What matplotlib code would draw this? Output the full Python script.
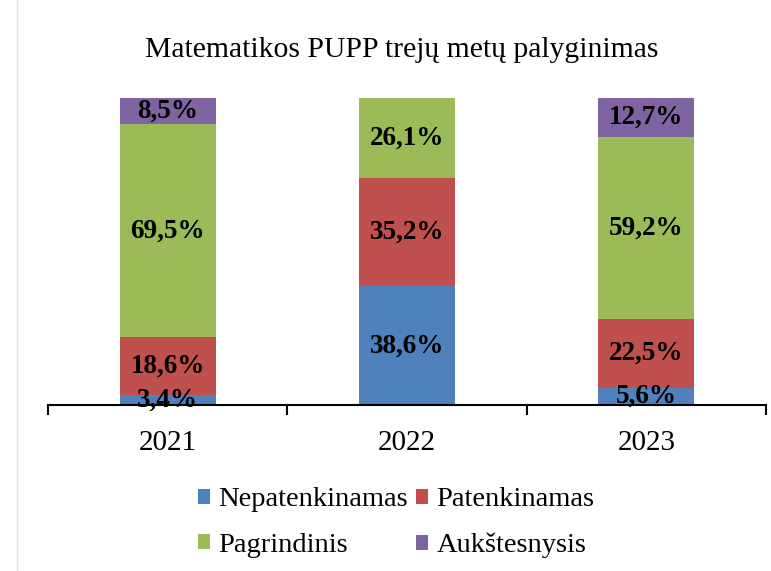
import matplotlib
matplotlib.use("Agg")
import matplotlib.pyplot as plt
from matplotlib.patches import Patch
import numpy as np

years = ["2021", "2022", "2023"]
series = ["Nepatenkinamas", "Patenkinamas", "Pagrindinis", "Aukštesnysis"]
nepatenkinamas = [3.4, 38.6, 5.6]
patenkinamas = [18.6, 35.2, 22.5]
pagrindinis = [69.5, 26.1, 59.2]
aukstesnysis = [8.5, 0.0, 12.7]
colors = ["#4F81BD", "#C0504D", "#9BBB59", "#8064A2"]
title = "Matematikos PUPP trejų metų palyginimas"

plt.rcParams['font.family'] = ['Liberation Serif', 'DejaVu Serif']

fig = plt.figure(figsize=(7.71, 5.71), dpi=100)
ax = fig.add_axes([48/771, 1-405/571, (766-48)/771, (405-98)/571])

data = [nepatenkinamas, patenkinamas, pagrindinis, aukstesnysis]
x = np.arange(len(years))
bottom = np.zeros(len(years))
for vals, col in zip(data, colors):
    vals = np.array(vals)
    ax.bar(x, vals, bottom=bottom, width=0.4, color=col, zorder=2)
    for xi, v, b in zip(x, vals, bottom):
        if v > 0:
            ax.text(xi, b + v/2, f"{v:.1f}%".replace(".", ","), ha="center", va="center",
                    fontsize=19.5, fontweight="bold", color="black", zorder=5)
    bottom += vals

ax.set_xlim(-0.5, 2.5)
ax.set_ylim(0, 100)
for s in ["top", "right", "left"]:
    ax.spines[s].set_visible(False)
ax.spines["bottom"].set_linewidth(1.5)
ax.spines["bottom"].set_zorder(3)
ax.set_yticks([])
ax.set_xticks([-0.5, 0.5, 1.5, 2.5])
ax.set_xticklabels([])
ax.tick_params(axis="x", which="major", length=7, width=1.5, direction="out")
ax.set_xticks(x, minor=True)
ax.set_xticklabels(years, minor=True, fontsize=21)
ax.tick_params(axis="x", which="minor", length=0, pad=18)

fig.text(402/771, 1-50/571, title, ha="center", va="center", fontsize=21.3)

# reorder so legend fills row-wise
order = [0, 2, 1, 3]
handles = [Patch(facecolor=colors[i], edgecolor="none") for i in order]
labels = [series[i] for i in order]
fig.legend(handles, labels, loc="center", bbox_to_anchor=(0.514, 1-523/571), ncol=2,
           frameon=False, fontsize=20.5, handlelength=0.42, handleheight=0.42,
           handletextpad=0.28, columnspacing=0.3, labelspacing=0.72)

fig.add_artist(plt.Line2D([17/771, 17/771], [0, 1], color="#e0e0e0", lw=1))

fig.savefig("out.png", dpi=100)
